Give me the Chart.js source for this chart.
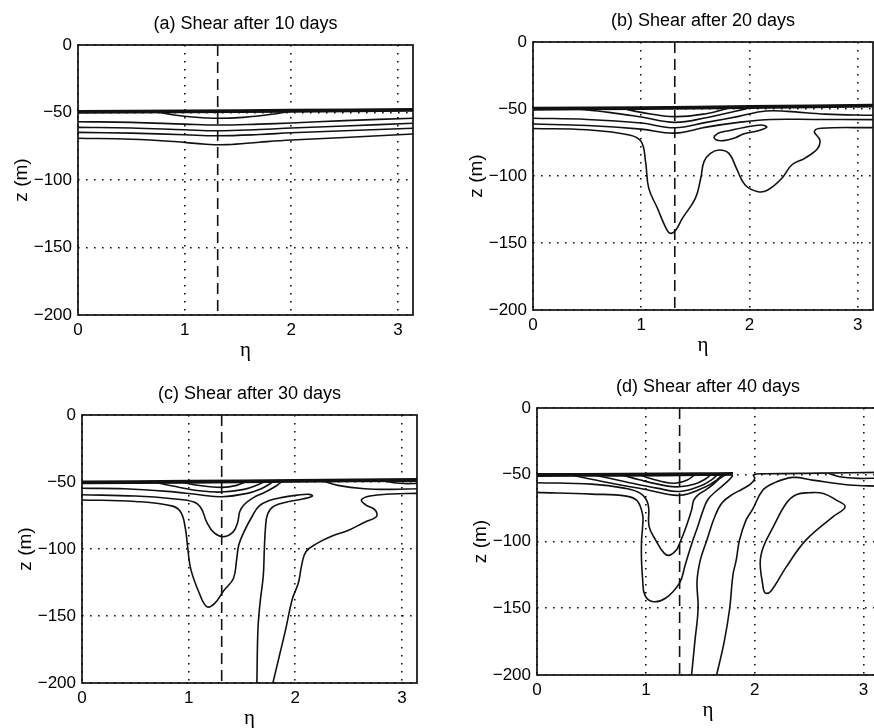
<!DOCTYPE html>
<html>
<head>
<meta charset="utf-8">
<script src="https://cdn.jsdelivr.net/npm/chart.js@4.4.1/dist/chart.umd.min.js"></script>
<style>
  html, body { margin: 0; padding: 0; background: #fff; overflow: hidden; }
  #page { position: relative; width: 874px; height: 728px; overflow: hidden; background: #fff; }
  #page canvas { position: absolute; }
</style>
</head>
<body>
<div id="page">
  <canvas id="pa"></canvas>
  <canvas id="pb"></canvas>
  <canvas id="pc"></canvas>
  <canvas id="pd"></canvas>
</div>
<script>
// axis ticks (eta runs 0..pi, depth 0..-200 m)
const etaTicks = [0, 1, 2, 3];
const zTicks = [0, -50, -100, -150, -200];
const etaMax = 3.1416;
const shearEta = 1.31; // position of the dashed line

// contour lines, pairs of [eta, z]
// (a) 10 days
const aThick = [[0, -49.5], [1, -49.2], [2, -48.7], [3.1416, -48.1]];
const aLens = [[0.75, -49.6], [0.9, -51.8], [1.1, -53.5], [1.31, -54.3], [1.55, -53.6], [1.8, -51.5], [2.0, -49]];
const aC1 = [[0, -56.8], [0.5, -57.3], [1.0, -58.6], [1.31, -59.3], [1.7, -58.6], [2.0, -57.8], [2.5, -56], [3.1416, -54.3]];
const aC2 = [[0, -61], [0.5, -61.5], [1.0, -62.8], [1.31, -63.5], [1.7, -62.6], [2.0, -61.5], [2.5, -60], [3.1416, -58]];
const aC3 = [[0, -64.7], [0.5, -65.3], [1.0, -66.5], [1.31, -67.2], [1.7, -66.3], [2.0, -65], [2.5, -63.5], [3.1416, -61.7]];
const aC4 = [[0, -69.1], [0.5, -69.8], [0.9, -71.5], [1.2, -73.5], [1.4, -73.8], [1.7, -72], [2.0, -70.4], [2.5, -68.5], [3.1416, -65.9]];

// (b) 20 days
const bThick = [[0, -49.8], [1, -49.3], [2, -48.5], [3.1416, -47.5]];
const bLensOuter = [[0.35, -49.6], [0.7, -52.5], [1.0, -56], [1.31, -60], [1.6, -56.5], [1.85, -52], [2.0, -49.3]];
const bLensInner = [[0.82, -49.5], [1.0, -52.5], [1.31, -55.7], [1.6, -53.5], [1.8, -49.4]];
const bL2 = [[0, -56.9], [0.5, -57.8], [1.0, -60.5], [1.31, -64], [1.6, -60], [1.9, -55.5], [2.15, -51.5], [2.35, -51.8], [2.7, -53.8], [3.1416, -54.7]];
const bL3 = [[0, -61.2], [0.5, -62.3], [1.0, -65], [1.31, -68], [1.6, -63.5], [1.9, -60], [2.2, -57.8], [2.6, -57.8], [3.1416, -57.9]];
const bPlume = [[0, -64.5], [0.5, -65.5], [0.89, -69.4], [1.0, -74.4], [1.04, -89.3], [1.07, -109.2], [1.15, -124.1], [1.23, -139.1],
  [1.27, -142.8], [1.32, -140.3], [1.38, -131.6], [1.5, -116.7], [1.55, -101.7], [1.58, -89.3], [1.64, -83.1], [1.72, -80.6],
  [1.81, -83.1], [1.88, -94.3], [1.96, -106.7], [2.08, -111.7], [2.17, -110.4], [2.3, -101.7], [2.39, -91.8], [2.51, -86.8],
  [2.63, -79.4], [2.65, -73.1], [2.6, -66.9], [2.66, -64.4], [3.1416, -63.9]];
const bLoop = [[1.67, -70.7], [1.72, -67.8], [1.81, -66.2], [1.95, -63.8], [2.11, -61.9], [2.16, -63.5], [2.08, -66.2],
  [1.95, -68.5], [1.87, -71.4], [1.76, -73.6], [1.69, -73], [1.67, -70.7]];

// (c) 30 days
const cThick = [[0, -50.3], [1, -49.8], [2, -49.2], [3.1416, -48.5]];
const cLens1 = [[0.92, -49.5], [1.05, -52], [1.31, -54], [1.45, -52.5], [1.55, -49.3]];
const cLens2 = [[0.64, -49.5], [0.85, -53], [1.1, -56.5], [1.31, -57.5], [1.52, -55.5], [1.65, -52], [1.72, -49.3]];
const cL4 = [[0, -54.7], [0.4, -55], [0.8, -57], [1.1, -59.5], [1.31, -61], [1.55, -58.5], [1.68, -55], [1.76, -51.5], [1.8, -49.3]];
const cLobe = [[0, -59.5], [0.5, -60.5], [0.85, -62.5], [1.05, -65], [1.12, -70], [1.17, -80], [1.24, -88], [1.33, -90.8],
  [1.42, -87], [1.46, -80], [1.48, -72], [1.52, -67], [1.6, -62], [1.72, -57.5], [1.82, -53], [1.88, -49.3]];
const cPlume = [[0, -63.4], [0.5, -64.5], [0.85, -68], [0.93, -73], [0.97, -85], [0.99, -98], [1.02, -115], [1.1, -133],
  [1.17, -143], [1.24, -141], [1.33, -131], [1.42, -122], [1.45, -108], [1.47, -97], [1.52, -87], [1.6, -75], [1.66, -68],
  [1.75, -64], [1.88, -61.5], [2.02, -59.8], [2.13, -59.2], [2.16, -60.5], [2.08, -62.5], [1.93, -64.8], [1.8, -68],
  [1.74, -74], [1.72, -85], [1.71, -100], [1.7, -120], [1.67, -140], [1.65, -160], [1.64, -200]];
const cRight = [[1.79, -200], [1.85, -180], [1.91, -160], [1.97, -138], [2.03, -125], [2.06, -112], [2.1, -102], [2.2, -96],
  [2.34, -90.5], [2.5, -86], [2.65, -80], [2.76, -76], [2.75, -71], [2.66, -67], [2.62, -63.5], [2.7, -60.5], [2.9, -59],
  [3.1416, -58.5]];
const cRightLens = [[2.25, -49], [2.4, -52.5], [2.65, -55], [2.9, -55.5], [3.1416, -55]];
const cRightSmall = [[2.8, -48.8], [2.92, -50.5], [3.05, -51.2], [3.1416, -51]];

// (d) 40 days
const dThick = [[0, -50.2], [0.8, -50], [1.5, -49.6], [1.8, -49.4]];
const dLens1 = [[0.94, -49.8], [1.05, -53], [1.25, -56.4], [1.38, -54], [1.45, -49.8]];
const dLens2 = [[0.77, -49.8], [0.95, -54], [1.2, -58.5], [1.31, -59], [1.45, -57], [1.55, -53], [1.6, -49.8]];
const dLens3 = [[0.51, -49.9], [0.8, -55], [1.1, -60], [1.31, -62.5], [1.5, -58.5], [1.6, -54], [1.66, -49.8]];
const dLens4 = [[0.3, -50], [0.6, -55], [1.0, -61], [1.31, -65.4], [1.55, -59], [1.65, -54], [1.7, -50]];
const dLobe = [[0, -56], [0.5, -57], [0.8, -60], [0.95, -64], [1.02, -72], [1.03, -88.9], [1.09, -98.9], [1.17, -108.9],
  [1.22, -110.2], [1.28, -106.4], [1.31, -101.4], [1.37, -88.9], [1.42, -76.4], [1.44, -69], [1.48, -65], [1.55, -61.4],
  [1.63, -56.4], [1.68, -52.7], [1.73, -50]];
const dOuter = [[0, -63.2], [0.5, -64.5], [0.82, -66], [0.92, -69.5], [0.97, -80], [0.97, -89], [0.96, -100], [0.96, -114],
  [0.97, -128], [0.99, -140], [1.06, -145], [1.18, -142.5], [1.31, -131], [1.36, -118], [1.42, -102], [1.48, -88],
  [1.52, -78], [1.57, -68.5], [1.65, -62], [1.75, -55], [1.8, -50.5]];
const dMiddle = [[1.42, -200], [1.45, -175], [1.48, -150], [1.47, -130], [1.5, -114], [1.56, -99], [1.63, -82], [1.7, -71],
  [1.8, -64.5], [1.88, -61], [1.96, -57], [2.0, -53], [1.99, -50], [2.1, -49.3], [2.6, -48.8], [3.1416, -48.2]];
const dRight = [[1.65, -200], [1.72, -175], [1.77, -150], [1.8, -125], [1.83, -114], [1.86, -99], [1.92, -84], [1.98, -76],
  [2.07, -62], [2.17, -56.4], [2.35, -52], [2.53, -54], [2.87, -57.7], [3.1416, -58.5]];
const dLoop = [[2.08, -136], [2.05, -116], [2.08, -104], [2.17, -89], [2.29, -71.4], [2.38, -65], [2.5, -63.5], [2.63, -64],
  [2.75, -69], [2.83, -74], [2.72, -81.4], [2.47, -99], [2.29, -119], [2.15, -137], [2.1, -138.8], [2.08, -136]];
const dRightLens = [[2.68, -49], [2.78, -51.5], [2.95, -52.7], [3.1416, -52.5]];

const panels = [
  { id: 'pa', title: '(a) Shear after 10 days', box: [78, 45, 413, 315],
    thick: [aThick], lines: [aLens, aC1, aC2, aC3, aC4] },
  { id: 'pb', title: '(b) Shear after 20 days', box: [533, 42, 873, 310],
    thick: [bThick], lines: [bLensOuter, bLensInner, bL2, bL3, bPlume, bLoop] },
  { id: 'pc', title: '(c) Shear after 30 days', box: [82, 415, 417, 683],
    thick: [cThick], lines: [cLens1, cLens2, cL4, cLobe, cPlume, cRight, cRightLens, cRightSmall] },
  { id: 'pd', title: '(d) Shear after 40 days', box: [537, 408, 879, 675],
    thick: [dThick], lines: [dLens1, dLens2, dLens3, dLens4, dLobe, dOuter, dMiddle, dRight, dLoop, dRightLens] }
];

Chart.defaults.font.family = '"Liberation Sans", Arial, Helvetica, sans-serif';
Chart.defaults.color = '#000';

const PADL = 78, PADT = 45, PADR = 12, PADB = 50;

function toXY(pts) {
  return pts.map(p => ({ x: p[0], y: p[1] }));
}

function contour(pts, width) {
  return {
    data: toXY(pts),
    showLine: true,
    borderColor: '#111',
    borderWidth: width,
    pointRadius: 0,
    tension: 0.4,
    fill: false
  };
}

function minusLabel(v) {
  return v < 0 ? '\u2212' + Math.abs(v) : String(v);
}

// box round the plot, like matlab
const framePlugin = {
  id: 'frame',
  afterDatasetsDraw(chart) {
    const a = chart.chartArea;
    const ctx = chart.ctx;
    ctx.save();
    ctx.strokeStyle = '#111';
    ctx.lineWidth = 1.7;
    ctx.strokeRect(a.left, a.top, a.right - a.left, a.bottom - a.top);
    ctx.restore();
  }
};

panels.forEach(function (p) {
  const [L, T, R, B] = p.box;
  const canvas = document.getElementById(p.id);
  canvas.width = PADL + (R - L) + PADR;
  canvas.height = PADT + (B - T) + PADB;
  canvas.style.left = (L - PADL) + 'px';
  canvas.style.top = (T - PADT) + 'px';

  const datasets = [];
  p.thick.forEach(pts => datasets.push(contour(pts, 3.8)));
  p.lines.forEach(pts => datasets.push(contour(pts, 1.6)));
  const dashed = contour([[shearEta, 0], [shearEta, -200]], 1.6);
  dashed.tension = 0;
  dashed.borderDash = [11, 6];
  datasets.push(dashed);

  new Chart(canvas.getContext('2d'), {
    type: 'scatter',
    data: { datasets: datasets },
    options: {
      responsive: false,
      animation: false,
      events: [],
      layout: { padding: { left: 0, top: 0, right: PADR, bottom: 0 } },
      scales: {
        x: {
          type: 'linear',
          min: 0,
          max: etaMax,
          afterBuildTicks: s => { s.ticks = etaTicks.map(v => ({ value: v })); },
          afterFit: s => { s.height = PADB; },
          ticks: { padding: 5, font: { size: 17 }, color: '#000' },
          grid: { color: '#111', lineWidth: 1.6, drawTicks: false },
          border: { display: false, dash: [1.6, 6.4] },
          title: {
            display: true,
            text: 'η',
            font: { family: '"Liberation Serif", "DejaVu Serif", serif', size: 21 },
            padding: { top: 0, bottom: 2 },
            color: '#000'
          }
        },
        y: {
          type: 'linear',
          min: -200,
          max: 0,
          afterBuildTicks: s => { s.ticks = zTicks.map(v => ({ value: v })); },
          afterFit: s => { s.width = PADL; },
          ticks: { padding: 6, font: { size: 17 }, color: '#000', callback: minusLabel },
          grid: { color: '#111', lineWidth: 1.6, drawTicks: false },
          border: { display: false, dash: [1.6, 6.4] },
          title: {
            display: true,
            text: 'z (m)',
            font: { size: 19 },
            padding: { top: 10, bottom: 0 },
            color: '#000'
          }
        }
      },
      plugins: {
        legend: { display: false },
        tooltip: { enabled: false },
        title: {
          display: true,
          fullSize: false,
          text: p.title,
          font: { size: 18, weight: 'normal' },
          padding: { top: 13.2, bottom: 10.2 },
          color: '#000'
        }
      }
    },
    plugins: [framePlugin]
  });
});
</script>
</body>
</html>
